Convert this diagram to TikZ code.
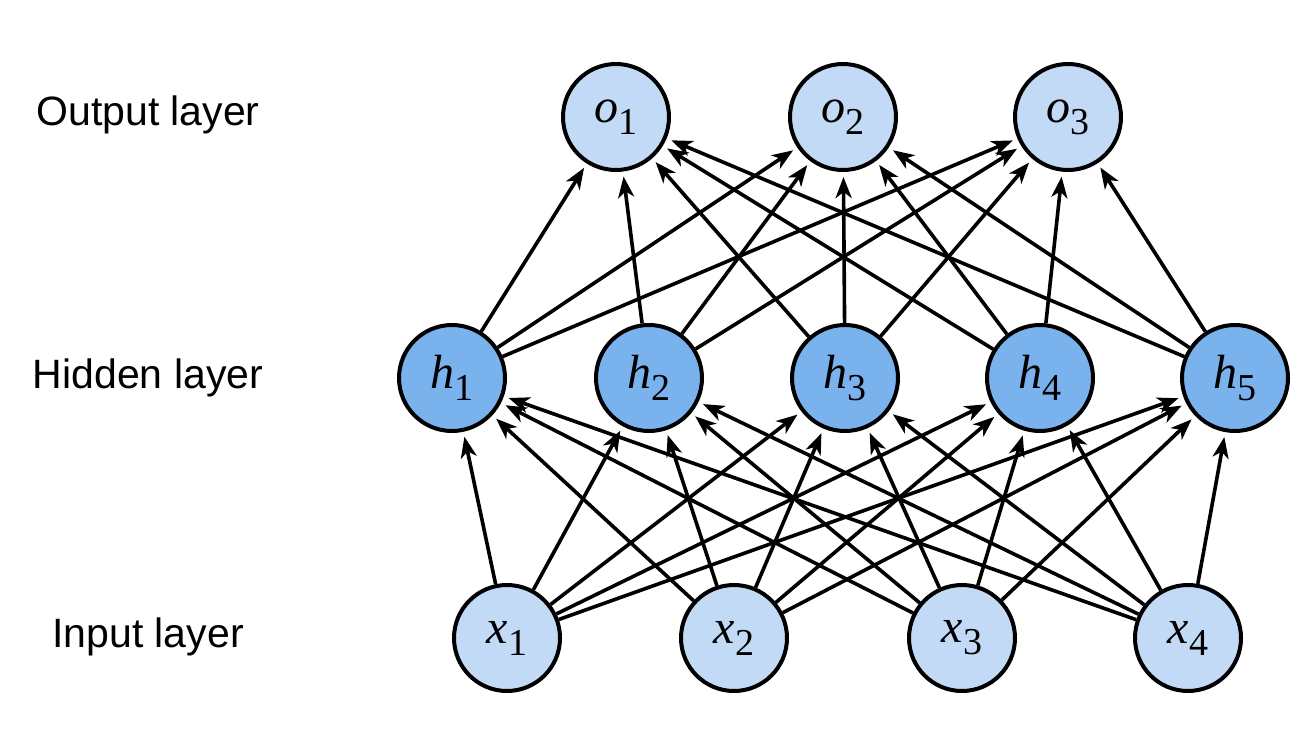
\documentclass[tikz,border=0pt]{standalone}
\usepackage{fontspec}
\setmainfont{Liberation Sans}
\newfontfamily\serifm{Liberation Serif}
\usetikzlibrary{arrows.meta}
\definecolor{lightb}{HTML}{C2DAF6}
\definecolor{darkb}{HTML}{7AB2EE}
\newcommand{\nlab}[2]{{\fontsize{48}{48}\selectfont\serifm\itshape #1}\raisebox{-12pt}{\fontsize{38}{38}\selectfont\serifm #2}}
\tikzset{
  neuron/.style={circle, draw=black, line width=4pt, minimum size=106pt, inner sep=0pt},
  inn/.style={neuron, fill=lightb},
  hid/.style={neuron, fill=darkb},
  outn/.style={neuron, fill=lightb},
  layerlab/.style={font=\fontsize{41}{41}\selectfont, anchor=center},
  conn/.style={line width=3.6pt, -{Stealth[length=21pt,width=16pt,inset=6pt]}, shorten >=5pt}
}
\begin{document}
\begin{tikzpicture}[x=1pt,y=-1pt]
\useasboundingbox (0,0) rectangle (1307,747);
\node[layerlab] (lo) at (148,115) {Output layer};
\node[layerlab] (lh) at (148,378) {Hidden layer};
\node[layerlab] (li) at (148,637) {Input layer};
\foreach \i/\x in {1/616,2/843,3/1068} \node[outn] (o\i) at (\x,117) {\nlab{o}{\i}};
\foreach \i/\x in {1/452,2/649,3/845,4/1040,5/1235} \node[hid] (h\i) at (\x,378) {\nlab{h}{\i}};
\foreach \i/\x in {1/507,2/734,3/962,4/1188} \node[inn] (x\i) at (\x,638) {\nlab{x}{\i}};
\foreach \a in {1,...,4} \foreach \b in {1,...,5} \draw[conn] (x\a) -- (h\b);
\foreach \a in {1,...,5} \foreach \b in {1,...,3} \draw[conn] (h\a) -- (o\b);
\end{tikzpicture}
\end{document}
